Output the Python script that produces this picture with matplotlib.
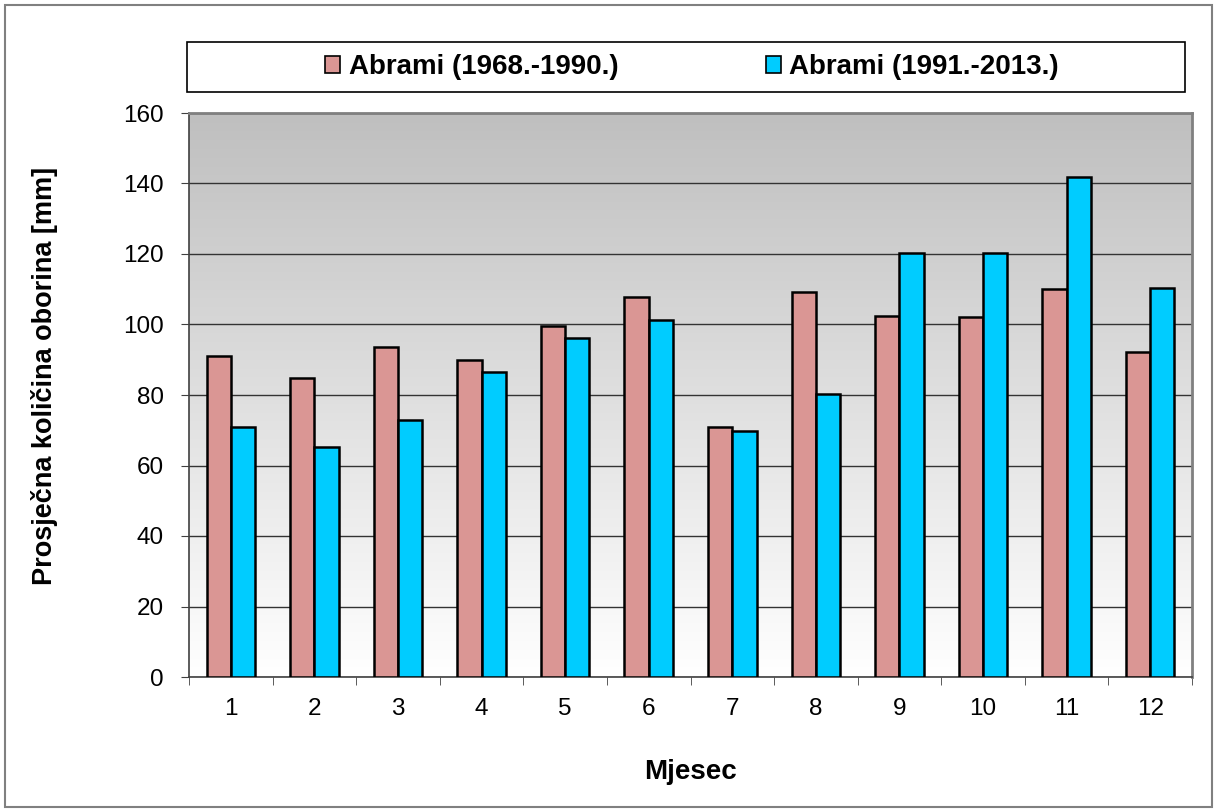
import numpy as np
import matplotlib
matplotlib.use("Agg")
import matplotlib.pyplot as plt
from matplotlib.patches import Rectangle

months = ["1", "2", "3", "4", "5", "6", "7", "8", "9", "10", "11", "12"]
abrami_1968_1990 = [91.1, 84.8, 93.5, 90.0, 99.6, 107.7, 70.9, 109.3, 102.4, 102.1, 110.1, 92.2]
abrami_1991_2013 = [70.9, 65.3, 72.9, 86.5, 96.2, 101.4, 69.9, 80.3, 120.2, 120.2, 141.8, 110.4]
labels = ["Abrami (1968.-1990.)", "Abrami (1991.-2013.)"]
colors = ["#da9694", "#00ccff"]

plt.rcParams["font.family"] = ["Liberation Sans", "DejaVu Sans"]

fig = plt.figure(figsize=(12.17, 8.10), dpi=100)
W, H = 1217, 810

# outer chart border
fig.patches.append(Rectangle((0.004, 0.004), 0.992, 0.99, transform=fig.transFigure,
                             fill=False, edgecolor="#808080", linewidth=1.5))

ax = fig.add_axes([189 / W, 1 - 677 / H, (1192 - 189) / W, (677 - 113) / H])

# gradient background: gray at top to white at bottom
grad = np.linspace(0, 1, 256).reshape(-1, 1)
ax.imshow(grad, extent=[0, 1, 0, 1], transform=ax.transAxes, aspect="auto",
          cmap=matplotlib.colors.LinearSegmentedColormap.from_list("bg", ["#ffffff", "#bfbfbf"]),
          origin="lower", zorder=0)

x = np.arange(len(months))
w = 0.29
ax.bar(x - w / 2, abrami_1968_1990, w, color=colors[0], edgecolor="black", linewidth=1.8,
       label=labels[0], zorder=3)
ax.bar(x + w / 2, abrami_1991_2013, w, color=colors[1], edgecolor="black", linewidth=1.8,
       label=labels[1], zorder=3)

ax.set_xlim(-0.5, len(months) - 0.5)
ax.set_ylim(0, 160)
ax.set_yticks(np.arange(0, 161, 20))
ax.set_xticks(x)
ax.set_xticklabels(months)
ax.set_xticks(np.arange(-0.5, len(months), 1), minor=True)
ax.tick_params(axis="x", which="major", length=0, pad=15, labelsize=17.5)
ax.tick_params(axis="x", which="minor", length=6, color="#404040")
ax.tick_params(axis="y", length=6, pad=12, labelsize=17.5, color="#404040")
ax.yaxis.grid(True, color="#333333", linewidth=1)
for line in ax.get_ygridlines():
    line.set_zorder(1)

for side in ["left", "bottom"]:
    ax.spines[side].set_color("#404040")
    ax.spines[side].set_linewidth(1.2)
for side in ["top", "right"]:
    ax.spines[side].set_color("#808080")
    ax.spines[side].set_linewidth(2)

fig.text(691 / W, 1 - 772 / H, "Mjesec", fontsize=20, fontweight="bold",
         ha="center", va="center")
fig.text(45 / W, 1 - 376 / H, "Prosječna količina oborina [mm]", fontsize=19.5,
         fontweight="bold", rotation=90, ha="center", va="center")

# legend box spanning the plot width
fig.patches.append(Rectangle((187 / W, 1 - 92 / H), (1185 - 187) / W, 50 / H,
                             transform=fig.transFigure, facecolor="white",
                             edgecolor="black", linewidth=1.2))
handles, lbls = ax.get_legend_handles_labels()
leg = fig.legend(handles, lbls, loc="center", bbox_to_anchor=(692 / W, 1 - 67 / H),
                 ncol=2, frameon=False, prop={"size": 20, "weight": "bold"},
                 handlelength=0.55, handleheight=0.55, handletextpad=0.3,
                 columnspacing=5.3)
for p in leg.get_patches():
    p.set_linewidth(1.2)

fig.savefig("out.png", dpi=100)
